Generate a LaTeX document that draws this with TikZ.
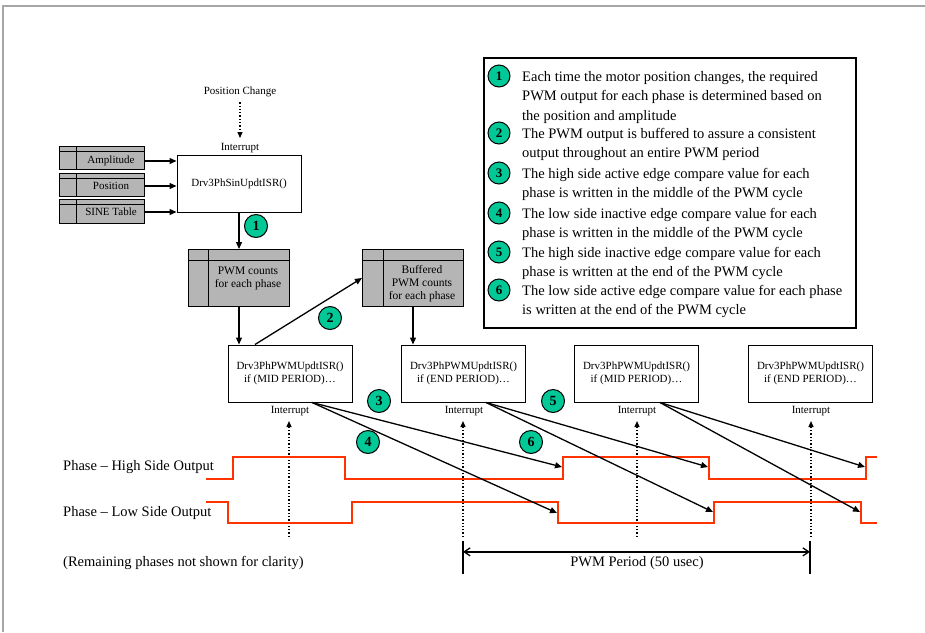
\documentclass[tikz,border=0pt]{standalone}
\usepackage{fontspec}
\setmainfont{Liberation Serif}
\usetikzlibrary{arrows.meta,calc}
\definecolor{wavecol}{HTML}{FF3300}
\definecolor{badgecol}{HTML}{00C896}
\begin{document}
\begin{tikzpicture}[x=1pt,y=-1pt,
  lbl/.style={font=\fontsize{11}{13}\selectfont, inner sep=0pt, align=center},
  midlbl/.style={font=\fontsize{11.5}{13}\selectfont, inner sep=0pt, align=center},
  big/.style={font=\fontsize{14.5}{19.5}\selectfont, inner sep=0pt},
  isr/.style={draw, line width=1pt, minimum width=124pt, minimum height=57pt, align=center, inner sep=0pt, font=\fontsize{11}{13}\selectfont},
  store/.style={draw, line width=1pt, fill=gray!58, anchor=north west, inner sep=0pt},
  storeline/.style={line width=0.8pt},
  badge/.style={circle, draw, line width=1pt, fill=badgecol, minimum size=23pt, inner sep=0pt, font=\bfseries\fontsize{14}{14}\selectfont},
  lbadge/.style={circle, draw, line width=1pt, fill=badgecol, minimum size=22pt, inner sep=0pt, font=\bfseries\fontsize{13}{13}\selectfont},
  arr/.style={line width=1.3pt, -{Triangle[length=7pt,width=6pt]}},
  intarr/.style={line width=1.3pt, dotted, -{Triangle[length=6pt,width=5pt]}},
  wavestyle/.style={draw=wavecol, line width=2pt},
  dim/.style={line width=1.3pt, {Straight Barb[length=6pt,width=8pt]}-{Straight Barb[length=6pt,width=8pt]}}
]
\useasboundingbox (0,0) rectangle (925,632);
% frame
\draw[gray!70, line width=1.5pt] (3,632) -- (3,6) -- (925,6);

% top: position change
\node[lbl] (pc) at (240,92) {Position Change};
\node[lbl] (int0) at (240,148) {Interrupt};
\draw[intarr, shorten <=5pt, shorten >=5pt] (pc.south) -- (int0.north);
\node[isr] (sin) at (239,183.5) {Drv3PhSinUpdtISR()};

% inputs
\node[store, minimum width=85pt, minimum height=23pt] (amp) at (59,146) {};
\node[store, minimum width=85pt, minimum height=23pt] (pos) at (59,173) {};
\node[store, minimum width=85pt, minimum height=24pt] (sine) at (59,199) {};
\foreach \s in {amp,pos,sine}{
  \draw[storeline] ([yshift=-5pt]\s.north west) -- ([yshift=-5pt]\s.north east);
  \draw[storeline] ([xshift=17pt]\s.north west) -- ([xshift=17pt]\s.south west);
}
\node[lbl] (ampT) at (111,161) {Amplitude};
\node[lbl] (posT) at (111,186) {Position};
\node[lbl] (sineT) at (111,212) {SINE Table};
\draw[arr] (ampT -| amp.east) -- (ampT -| sin.west);
\draw[arr] (posT -| pos.east) -- (posT -| sin.west);
\draw[arr] (sineT -| sine.east) -- (sineT -| sin.west);

% PWM counts stores
\node[store, minimum width=101pt, minimum height=57pt] (pwm) at (188,249) {};
\draw[storeline] ([yshift=-11pt]pwm.north west) -- ([yshift=-11pt]pwm.north east);
\draw[storeline] ([xshift=20pt]pwm.north west) -- ([xshift=20pt]pwm.south west);
\node[midlbl] (pwmT) at (248,278) {PWM counts\\for each phase};

\node[store, minimum width=101pt, minimum height=57pt] (buf) at (362,249) {};
\draw[storeline] ([yshift=-11pt]buf.north west) -- ([yshift=-11pt]buf.north east);
\draw[storeline] ([xshift=21pt]buf.north west) -- ([xshift=21pt]buf.south west);
\node[midlbl] (bufT) at (422,284) {Buffered\\PWM counts\\for each phase};

% ISR boxes
\node[isr] (mid1) at (290,373.5) {Drv3PhPWMUpdtISR()\\if (MID PERIOD)\dots};
\node[isr] (end1) at (463.5,373.5) {Drv3PhPWMUpdtISR()\\if (END PERIOD)\dots};
\node[isr] (mid2) at (636.5,373.5) {Drv3PhPWMUpdtISR()\\if (MID PERIOD)\dots};
\node[isr] (end2) at (810.5,373.5) {Drv3PhPWMUpdtISR()\\if (END PERIOD)\dots};

\draw[arr] (sin.south) -- (sin.south |- pwm.north);
\draw[arr] (pwm.south) -- (pwm.south |- mid1.north);
\draw[arr] ([xshift=-35pt]mid1.north) -- (buf.west);
\draw[arr] (buf.south) -- (buf.south |- end1.north);

% interrupts
\node[lbl] (int1) at (290,411) {Interrupt};
\node[lbl] (int2) at (464,411) {Interrupt};
\node[lbl] (int3) at (637,411) {Interrupt};
\node[lbl] (int4) at (811,411) {Interrupt};
\coordinate (d1) at (289,537);
\coordinate (d2) at (463,537);
\coordinate (d3) at (637,537);
\coordinate (d4) at (811,537);
\draw[intarr] (d1) -- (d1 |- 0,421);
\draw[intarr] (d2) -- (d2 |- 0,421);
\draw[intarr] (d3) -- (d3 |- 0,421);
\draw[intarr] (d4) -- (d4 |- 0,421);

% waveforms
\draw[wavestyle] (206,479) -- (233,479) -- (233,457) -- (345,457) -- (345,479) -- (563,479) -- (563,457) -- (709,457) -- (709,479) -- (866,479) -- (866,457) -- (877,457);
\draw[wavestyle] (206,502) -- (228,502) -- (228,523) -- (352,523) -- (352,502) -- (558,502) -- (558,523) -- (714,523) -- (714,502) -- (861,502) -- (861,523) -- (877,523);
\coordinate (hr1) at (562,467);
\coordinate (lf1) at (557,513);
\coordinate (hf1) at (708,467);
\coordinate (lr1) at (713,512);
\coordinate (hr2) at (865,467);
\coordinate (lf2) at (860,512);

\draw[arr] ([xshift=22pt]mid1.south) -- (hr1);
\draw[arr] ([xshift=22pt]mid1.south) -- (lf1);
\draw[arr] ([xshift=22.5pt]end1.south) -- (hf1);
\draw[arr] ([xshift=22.5pt]end1.south) -- (lr1);
\draw[arr] ([xshift=23.5pt]mid2.south) -- (hr2);
\draw[arr] ([xshift=23.5pt]mid2.south) -- (lf2);

% badges
\node[badge] (b1) at (256,226) {1};
\node[badge] (b2) at (330,318) {2};
\node[badge] (b3) at (379,401) {3};
\node[badge] (b4) at (368,442) {4};
\node[badge] (b5) at (553,401) {5};
\node[badge] (b6) at (531,442) {6};

% labels
\node[big, anchor=west] (hs) at (63,467) {Phase -- High Side Output};
\node[big, anchor=west] (ls) at (63,513) {Phase -- Low Side Output};
\node[big, anchor=west] (rem) at (63,563) {(Remaining phases not shown for clarity)};

% PWM period
\coordinate (p1t) at (463,541);
\coordinate (p1b) at (463,574);
\coordinate (p2t) at (810,541);
\coordinate (p2b) at (810,574);
\draw[line width=1.3pt] (p1t) -- (p1b);
\draw[line width=1.3pt] (p2t) -- (p2b);
\draw[dim] ($(p1t)!0.33!(p1b)$) -- ($(p2t)!0.33!(p2b)$);
\node[big] (per) at (637,563) {PWM Period (50 usec)};

% legend
\draw[line width=1.5pt] (484,58) rectangle (856,328);
\node[lbadge] (l1) at (499,76) {1};
\node[lbadge] (l2) at (499,133) {2};
\node[lbadge] (l3) at (499,173) {3};
\node[lbadge] (l4) at (499,213) {4};
\node[lbadge] (l5) at (499,252) {5};
\node[lbadge] (l6) at (499,290) {6};
\node[big, anchor=north west, align=left] (t1) at (522,71) {Each time the motor position changes, the required\\PWM output for each phase is determined based on\\the position and amplitude};
\node[big, anchor=north west, align=left] (t2) at (522,128) {The PWM output is buffered to assure a consistent\\output throughout an entire PWM period};
\node[big, anchor=north west, align=left] (t3) at (522,168) {The high side active edge compare value for each\\phase is written in the middle of the PWM cycle};
\node[big, anchor=north west, align=left] (t4) at (522,208) {The low side inactive edge compare value for each\\phase is written in the middle of the PWM cycle};
\node[big, anchor=north west, align=left] (t5) at (522,247) {The high side inactive edge compare value for each\\phase is written at the end of the PWM cycle};
\node[big, anchor=north west, align=left] (t6) at (522,285) {The low side active edge compare value for each phase\\is written at the end of the PWM cycle};
\end{tikzpicture}
\end{document}
